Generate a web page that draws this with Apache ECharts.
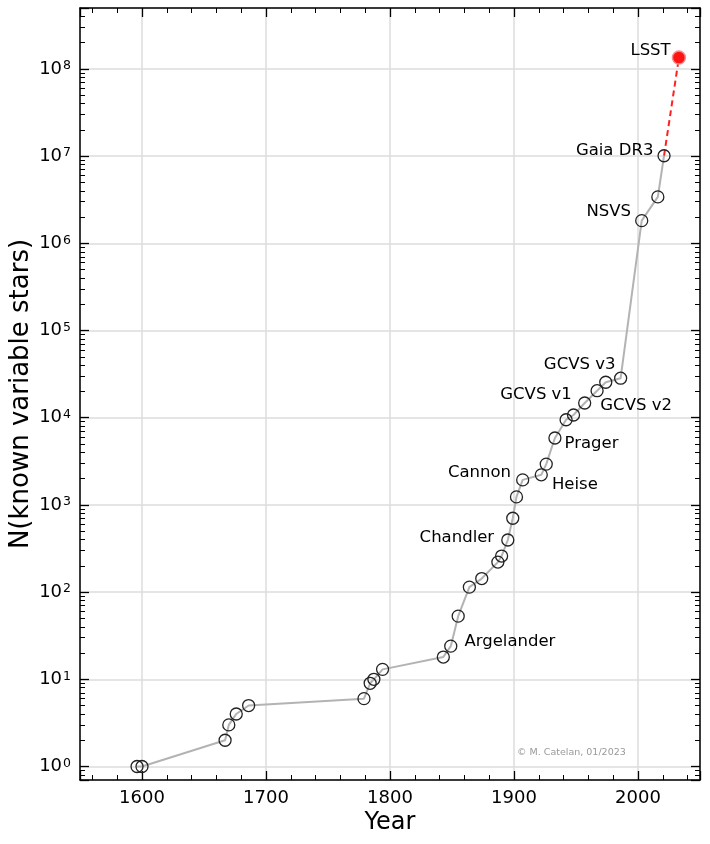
<!DOCTYPE html>
<html>
<head>
<meta charset="utf-8">
<script src="https://cdn.jsdelivr.net/npm/echarts@6/dist/echarts.min.js"></script>
<style>
  html, body { margin: 0; padding: 0; background: #fff; }
  #container { width: 710px; height: 844px; }
</style>
</head>
<body>
<div id="container"></div>
<script>
// data
var years = [1596, 1600, 1667, 1670, 1676, 1686, 1779, 1784, 1787, 1794,
             1843, 1849, 1855, 1864, 1874, 1887, 1890, 1895, 1899, 1902,
             1907, 1922, 1926, 1933, 1942, 1948, 1957, 1967, 1974, 1986,
             2003, 2016, 2021];
var counts = [1, 1, 2, 3, 4, 5, 6, 9, 10, 13,
              18, 24, 53, 114, 143, 221, 259, 396, 703, 1236,
              1937, 2213, 2937, 5850, 9480, 10740, 14760, 20400, 25500, 28400,
              1.82e6, 3.41e6, 1.01e7];
var lsstYear = 2033;
var lsstCount = 1.35e8;

var labelNames = ['Argelander', 'Chandler', 'Cannon', 'Heise', 'Prager',
                  'GCVS v1', 'GCVS v2', 'GCVS v3', 'NSVS', 'Gaia DR3'];
var labelYears = [1849, 1895, 1907, 1922, 1933, 1948, 1957, 1967, 2003, 2021];

// label placement (position, offset)
var labelPlace = {
    'Argelander': ['right', [2, -4]],
    'Chandler': ['left', [-2, -2]],
    'Cannon': ['left', [0, -7]],
    'Heise': ['right', [-1, 10]],
    'Prager': ['right', [-2, 6]],
    'GCVS v1': ['left', [10, -20]],
    'GCVS v2': ['right', [4, 3]],
    'GCVS v3': ['left', [30, -26]],
    'NSVS': ['left', [1, -9]],
    'Gaia DR3': ['left', [1, -5]]
};

var FONT = 'DejaVu Sans';

var xMinor = [];
for (var yr = 1560; yr <= 2040; yr += 20) {
    if (yr % 100 != 0) xMinor.push(yr);
}
var yMinor = [0.8, 0.9];
for (var e = 0; e <= 8; e++) {
    for (var m = 2; m <= 9; m++) {
        var v = m * Math.pow(10, e);
        if (v < 5e8) yMinor.push(v);
    }
}

var mainData = [];
for (var i = 0; i < years.length; i++) {
    var item = { value: [years[i], counts[i]] };
    var k = labelYears.indexOf(years[i]);
    if (k >= 0) {
        var nm = labelNames[k];
        item.label = {
            show: true,
            formatter: nm,
            position: labelPlace[nm][0],
            offset: labelPlace[nm][1],
            distance: 5,
            fontSize: 16.5,
            fontFamily: FONT,
            color: '#000'
        };
    }
    mainData.push(item);
}

function powLabel(v) {
    var l = Math.log10(v);
    var n = Math.round(l);
    if (Math.abs(l - n) > 1e-6) return '';
    return '10{s|' + n + '}';
}
function yearLabel(v) {
    return v % 100 == 0 ? String(v) : '';
}

var xBase = { type: 'value', min: 1550, max: 2050 };
var yBase = { type: 'log', logBase: 10, min: 0.7, max: 5e8 };
var majorTick = { show: true, inside: true, length: 9, lineStyle: { color: '#000', width: 1.3 } };
var minorTick = { show: true, inside: true, length: 5, lineStyle: { color: '#000', width: 1 } };

function ext(a, b) { return Object.assign({}, a, b); }

var dom = document.getElementById('container');
var myChart = echarts.init(dom);
var option = {
    animation: false,
    backgroundColor: '#fff',
    grid: { left: 80, right: 10, top: 8, bottom: 64, outerBoundsMode: 'none' },
    xAxis: [
        ext(xBase, {
            position: 'bottom',
            name: 'Year',
            nameLocation: 'middle',
            nameGap: 31,
            nameMoveOverlap: false,
            nameTextStyle: { fontSize: 24, fontFamily: FONT, color: '#000' },
            axisLine: { show: true, lineStyle: { color: '#000', width: 1.5 } },
            axisTick: majorTick,
            axisLabel: { formatter: yearLabel, fontSize: 18, fontFamily: FONT, color: '#000', margin: 9 },
            splitLine: { show: true, lineStyle: { color: '#dcdcdc', width: 1.5 } }
        }),
        ext(xBase, {
            position: 'bottom',
            axisLine: { show: false },
            axisTick: ext(minorTick, { customValues: xMinor }),
            axisLabel: { show: false },
            splitLine: { show: false }
        }),
        ext(xBase, {
            position: 'top',
            axisLine: { show: true, lineStyle: { color: '#000', width: 1.5 } },
            axisTick: majorTick,
            axisLabel: { show: false },
            splitLine: { show: false }
        }),
        ext(xBase, {
            position: 'top',
            axisLine: { show: false },
            axisTick: ext(minorTick, { customValues: xMinor }),
            axisLabel: { show: false },
            splitLine: { show: false }
        })
    ],
    yAxis: [
        ext(yBase, {
            position: 'left',
            name: 'N(known variable stars)',
            nameLocation: 'middle',
            nameGap: 46,
            nameMoveOverlap: false,
            nameTextStyle: { fontSize: 26, fontFamily: FONT, color: '#000' },
            axisLine: { show: true, lineStyle: { color: '#000', width: 1.5 } },
            axisTick: majorTick,
            axisLabel: {
                formatter: powLabel,
                fontSize: 18, fontFamily: FONT, color: '#000', margin: 9,
                rich: { s: { fontSize: 12.5, fontFamily: FONT, color: '#000', verticalAlign: 'top', padding: [0, 0, 6, 1] } }
            },
            splitLine: { show: true, lineStyle: { color: '#dcdcdc', width: 1.5 } }
        }),
        ext(yBase, {
            position: 'left',
            axisLine: { show: false },
            axisTick: ext(minorTick, { customValues: yMinor }),
            axisLabel: { show: false },
            splitLine: { show: false }
        }),
        ext(yBase, {
            position: 'right',
            axisLine: { show: true, lineStyle: { color: '#000', width: 1.5 } },
            axisTick: majorTick,
            axisLabel: { show: false },
            splitLine: { show: false }
        }),
        ext(yBase, {
            position: 'right',
            axisLine: { show: false },
            axisTick: ext(minorTick, { customValues: yMinor }),
            axisLabel: { show: false },
            splitLine: { show: false }
        })
    ],
    graphic: [{
        type: 'text',
        left: 517,
        top: 748,
        style: { text: '\u00a9 M. Catelan, 01/2023', fontSize: 9.5, fontFamily: FONT, fill: '#999' }
    }],
    series: [
        {
            name: 'LSST',
            type: 'line',
            xAxisIndex: 0,
            yAxisIndex: 0,
            z: 2,
            lineStyle: { color: '#ff2020', width: 2, type: [6, 4] },
            data: [
                { value: [years[years.length - 1], counts[counts.length - 1]], symbol: 'none' },
                {
                    value: [lsstYear, lsstCount],
                    symbol: 'circle',
                    symbolSize: 13,
                    itemStyle: { color: '#ff1414', borderColor: '#f29090', borderWidth: 1.5 },
                    label: { show: true, formatter: 'LSST', position: 'left', distance: 5, offset: [4, -7], fontSize: 16.5, fontFamily: FONT, color: '#000' }
                }
            ]
        },
        {
            name: 'known',
            type: 'line',
            xAxisIndex: 0,
            yAxisIndex: 0,
            z: 3,
            symbol: 'circle',
            symbolSize: 12,
            showAllSymbol: true,
            lineStyle: { color: '#b3b3b3', width: 2 },
            itemStyle: { color: 'rgba(255,255,255,0)', borderColor: '#222', borderWidth: 1.3 },
            data: mainData
        }
    ]
};
myChart.setOption(option, true);
</script>
</body>
</html>
